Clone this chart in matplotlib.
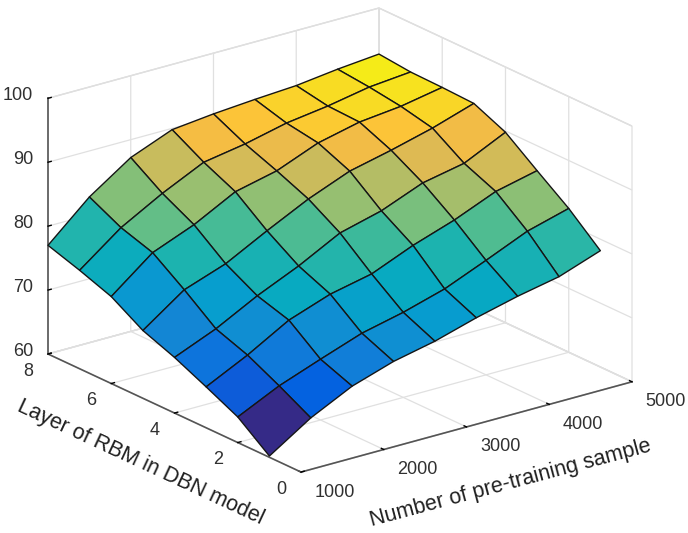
import numpy as np
from matplotlib import pyplot as plt
from matplotlib.colors import LinearSegmentedColormap, Normalize
from mpl_toolkits.mplot3d import proj3d

plt.rcParams['font.family'] = ['Liberation Sans', 'DejaVu Sans']

samples = [1000, 1500, 2000, 2500, 3000, 3500, 4000, 4500, 5000]
layers = [1, 2, 3, 4, 5, 6, 7, 8]
accuracy = [
    [60.2, 64.4, 67.6, 69.7, 71.1, 73.0, 74.6, 75.9, 78.2],
    [64.0, 67.1, 69.5, 71.8, 73.3, 75.2, 77.9, 80.7, 82.5],
    [66.4, 69.6, 73.3, 75.6, 77.0, 79.7, 81.9, 84.6, 86.1],
    [68.7, 71.4, 74.8, 77.7, 81.1, 82.8, 85.4, 86.7, 89.8],
    [70.6, 75.2, 77.5, 80.9, 84.1, 86.7, 88.2, 89.9, 92.0],
    [73.6, 78.7, 81.3, 84.7, 86.2, 88.8, 90.3, 91.0, 92.2],
    [75.4, 80.3, 83.9, 87.0, 88.1, 89.6, 90.5, 91.7, 92.3],
    [77.0, 82.8, 87.2, 89.8, 90.5, 91.0, 91.4, 92.2, 92.8],
]
x_ticks = [1000, 2000, 3000, 4000, 5000]
y_ticks = [0, 2, 4, 6, 8]
z_ticks = [60, 70, 80, 90, 100]

# parula, some entries of the 64 with their index
parula = LinearSegmentedColormap.from_list('parula', [
    (0 / 63, (0.2081, 0.1663, 0.5292)), (4 / 63, (0.1959, 0.2645, 0.7279)),
    (8 / 63, (0.0117, 0.3875, 0.8820)), (13 / 63, (0.0629, 0.4737, 0.8554)),
    (17 / 63, (0.0749, 0.5375, 0.8263)), (21 / 63, (0.0265, 0.6137, 0.8135)),
    (25 / 63, (0.0267, 0.6642, 0.7607)), (29 / 63, (0.1133, 0.7015, 0.6859)),
    (33 / 63, (0.2586, 0.7317, 0.5954)), (37 / 63, (0.4420, 0.7481, 0.5033)),
    (41 / 63, (0.6099, 0.7473, 0.4337)), (45 / 63, (0.7525, 0.7384, 0.3768)),
    (49 / 63, (0.8824, 0.7274, 0.3217)), (53 / 63, (0.9938, 0.7455, 0.2403)),
    (57 / 63, (0.9789, 0.8271, 0.1633)), (61 / 63, (0.9598, 0.9218, 0.0948)),
    (63 / 63, (0.9763, 0.9831, 0.0538)),
])

W, H = 688, 533
fig = plt.figure(figsize=(W / 100, H / 100), dpi=100)
ax = fig.add_axes([0.1, 0.1, 0.8, 0.8], projection='3d', proj_type='ortho')
ax.view_init(elev=20.9, azim=-127.4)
ax.set_box_aspect((1, 1, 0.657))

X, Y = np.meshgrid(samples, layers)
Z = np.array(accuracy)
colors = parula(Normalize(Z.min(), Z.max())(Z))
ax.plot_surface(X, Y, Z, rstride=1, cstride=1, facecolors=colors, shade=False,
                edgecolor='#151515', linewidth=1.0, antialiased=True)

ax.set_xlim(1000, 5000)
ax.set_ylim(0, 8)
ax.set_zlim(60, 100)
ax.set_xticks(x_ticks)
ax.set_yticks(y_ticks)
ax.set_zticks(z_ticks)
ax.set_xticklabels([])
ax.set_yticklabels([])
ax.set_zticklabels([])

for axis in (ax.xaxis, ax.yaxis, ax.zaxis):
    axis.set_pane_color((1, 1, 1, 1))
    axis.pane.set_edgecolor('#d8d8d8')
    axis.line.set_color('#555555')
    axis.line.set_linewidth(1.2)
    axis._axinfo['grid'].update(color='#e0e0e0', linewidth=0.9)
    axis._axinfo['tick'].update(inward_factor=0.0, outward_factor=0.12, color='#555555')
    axis._axinfo['tick']['linewidth'] = {True: 1.0, False: 0.5}


def to_px(x, y, z):
    px, py, _ = proj3d.proj_transform(x, y, z, ax.get_proj())
    return ax.transData.transform((px, py))


# place the box so its floor corners land where the reference has them
side = 500.0
cx, cy = W / 2, H / 2
for _ in range(3):
    ax.set_position([(cx - side / 2) / W, (cy - side / 2) / H, side / W, side / H])
    fig.canvas.draw()
    left = to_px(1000, 8, 60)
    right = to_px(5000, 0, 60)
    side *= (632 - 48) / (right[0] - left[0])
    ax.set_position([(cx - side / 2) / W, (cy - side / 2) / H, side / W, side / H])
    fig.canvas.draw()
    left = to_px(1000, 8, 60)
    cx += 48 - left[0]
    cy += (H - 354) - left[1]
ax.set_position([(cx - side / 2) / W, (cy - side / 2) / H, side / W, side / H])
fig.canvas.draw()


def tick_text(pos, label, dx, dy, ha='center'):
    px, py = to_px(*pos)
    fig.text((px + dx) / W, (py + dy) / H, label, fontsize=13, color='#303030', ha=ha, va='center')


# mplot3d only pushes tick labels straight out from the box, so put them by hand
for v in x_ticks:
    tick_text((v, 0, 60), str(v), 34, -20)
for v in y_ticks:
    tick_text((1000, v, 60), str(v), -20, -17)
for v in z_ticks:
    tick_text((1000, 8, v), str(v), -15, 3, ha='right')

fig.text(141 / W, 1 - 462 / H, 'Layer of RBM in DBN model', fontsize=15.5, color='#202020',
         rotation=-25, ha='center', va='center', rotation_mode='anchor')
fig.text(511 / W, 1 - 483 / H, 'Number of pre-training sample', fontsize=15.5, color='#202020',
         rotation=15, ha='center', va='center', rotation_mode='anchor')

fig.savefig('out.png', dpi=100)
